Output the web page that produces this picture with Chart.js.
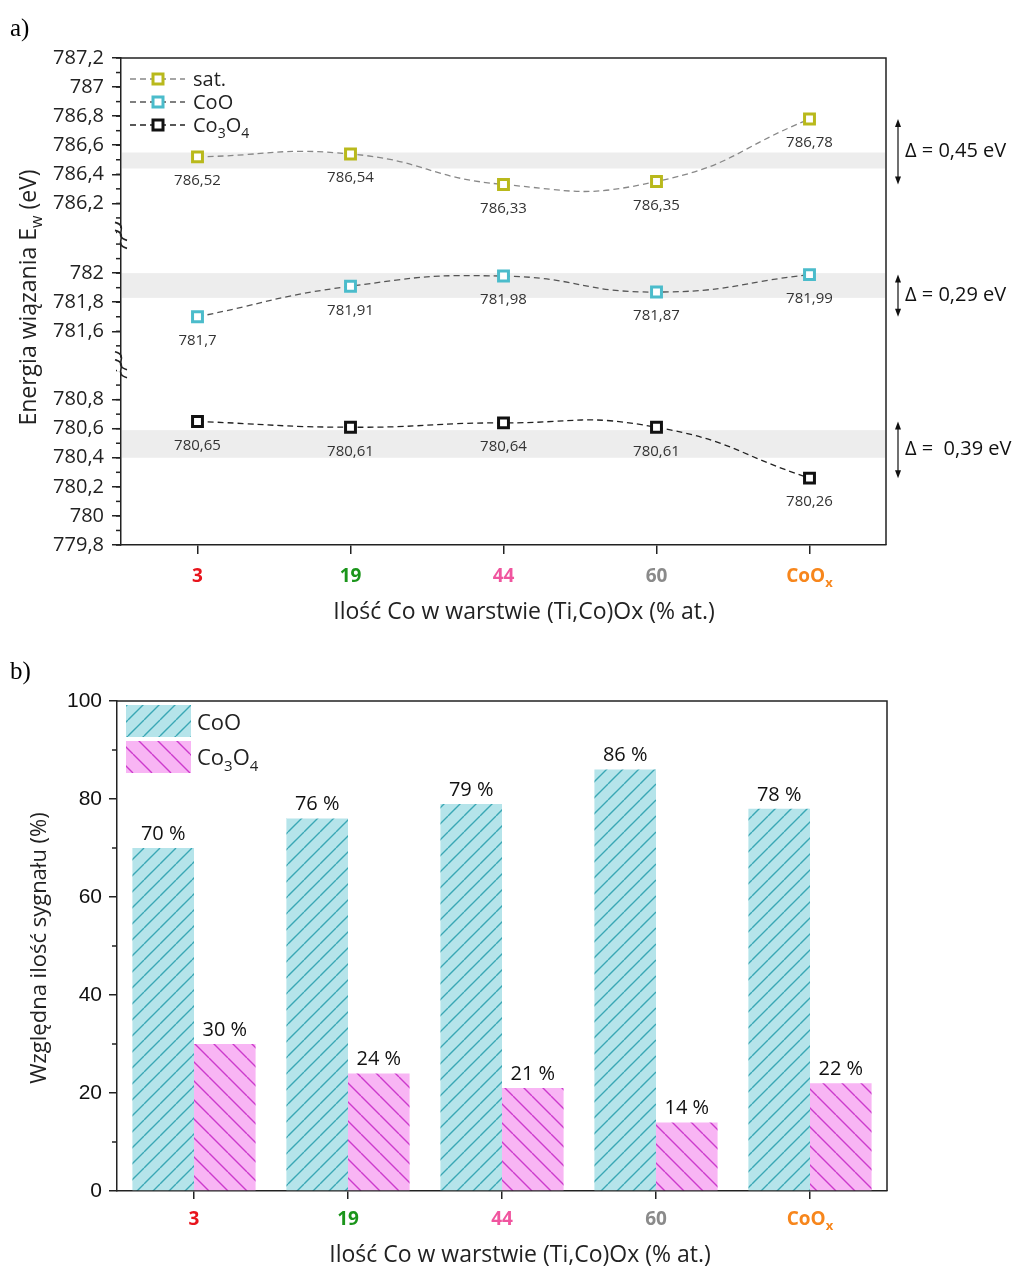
<!DOCTYPE html>
<html><head><meta charset="utf-8">
<script src="https://cdn.jsdelivr.net/npm/chart.js@4.4.1/dist/chart.umd.min.js"></script>
<style>
html,body{margin:0;padding:0;background:#fff;}
#wa{position:absolute;left:0;top:0;width:1016px;height:640px;}
#wb{position:absolute;left:0;top:640px;width:1016px;height:630px;}
</style></head><body>
<div id="wa"><canvas id="ca"></canvas></div>
<div id="wb"><canvas id="cb"></canvas></div>
<script>
// ---------- data ----------
const categories = ['3', '19', '44', '60', 'CoOx'];
const categoryColors = ['#e8141c', '#1b951b', '#f0559f', '#8a8a8a', '#f7861c'];
const satValues = [786.52, 786.54, 786.33, 786.35, 786.78];
const cooValues = [781.70, 781.91, 781.98, 781.87, 781.99];
const co3o4Values = [780.65, 780.61, 780.64, 780.61, 780.26];
const topTicks = [786.2, 786.4, 786.6, 786.8, 787, 787.2];
const midTicks = [781.6, 781.8, 782];
const botTicks = [779.8, 780, 780.2, 780.4, 780.6, 780.8];
const topRange = [785.98, 787.2];
const midRange = [781.37, 782.26];
const botRange = [779.8, 781.04];
const satBand = [786.44, 786.55];
const cooBand = [781.83, 782.0];
const co3o4Band = [780.40, 780.59];
const deltaLabels = ['Δ = 0,45 eV', 'Δ = 0,29 eV', 'Δ =  0,39 eV'];
const cooShares = [70, 76, 79, 86, 78];
const co3o4Shares = [30, 24, 21, 14, 22];
const shareTicks = [0, 20, 40, 60, 80, 100];

const FONT = "'Open Sans', 'DejaVu Sans', sans-serif";
const SAT_C = '#b9b91c', COO_C = '#4bbccb', CO3_C = '#111111';
const fmt = v => String(+v.toFixed(2)).replace('.', ',');

function richText(ctx, parts, x, y, size, weight, color, align) {
  const sub = Math.round(size * 0.68);
  let w = 0;
  const ws = parts.map(([t, s]) => { ctx.font = `${weight} ${s ? sub : size}px ${FONT}`; const m = ctx.measureText(t).width; w += m; return m; });
  let cx = align === 'center' ? x - w / 2 : align === 'right' ? x - w : x;
  ctx.fillStyle = color; ctx.textAlign = 'left'; ctx.textBaseline = 'alphabetic';
  parts.forEach(([t, s], i) => { ctx.font = `${weight} ${s ? sub : size}px ${FONT}`; ctx.fillText(t, cx, s ? y + size * 0.28 : y); cx += ws[i]; });
}
const catParts = c => c === 'CoOx' ? [['CoO', 0], ['x', 1]] : [[c, 0]];

function drawFrame(ctx, a) {
  ctx.save(); ctx.strokeStyle = '#222'; ctx.lineWidth = 1.5;
  ctx.beginPath(); ctx.moveTo(a.left, a.top); ctx.lineTo(a.right, a.top); ctx.lineTo(a.right, a.bottom); ctx.stroke();
  ctx.restore();
}

// ---------- chart a ----------
const decorA = {
  id: 'decorA',
  beforeDatasetsDraw(chart) {
    const ctx = chart.ctx, a = chart.chartArea;
    ctx.save(); ctx.fillStyle = '#ededed';
    [[satBand, 'yTop'], [cooBand, 'yMid'], [co3o4Band, 'yBot']].forEach(([b, id]) => {
      const s = chart.scales[id];
      const y1 = s.getPixelForValue(b[1]), y0 = s.getPixelForValue(b[0]);
      ctx.fillRect(a.left + 1, y1, a.right - a.left - 2, y0 - y1);
    });
    ctx.restore();
  },
  afterDraw(chart) {
    const ctx = chart.ctx, a = chart.chartArea;
    drawFrame(ctx, a);
    ctx.save();
    // minor ticks
    ctx.strokeStyle = '#222'; ctx.lineWidth = 1.5;
    ['yTop', 'yMid', 'yBot'].forEach(id => {
      const s = chart.scales[id];
      for (let k = Math.ceil(s.min * 10 - 1e-6); k <= Math.floor(s.max * 10 + 1e-6); k++) {
        const y = s.getPixelForValue(k / 10);
        ctx.beginPath(); ctx.moveTo(a.left - 5, y); ctx.lineTo(a.left, y); ctx.stroke();
      }
    });
    // axis breaks
    [chart.scales.yTop.bottom, chart.scales.yMid.bottom].forEach(yb => {
      ctx.fillStyle = '#fff'; ctx.fillRect(a.left - 4, yb - 7, 8, 14);
      ctx.strokeStyle = '#222'; ctx.lineWidth = 1.6;
      [-4, 4].forEach(off => {
        ctx.beginPath();
        ctx.moveTo(a.left - 6, yb + off - 9);
        ctx.bezierCurveTo(a.left + 9, yb + off - 5, a.left - 9, yb + off + 5, a.left + 6, yb + off + 9);
        ctx.stroke();
      });
    });
    // data labels
    ctx.font = `15px ${FONT}`; ctx.fillStyle = '#333'; ctx.textAlign = 'center'; ctx.textBaseline = 'middle';
    chart.data.datasets.forEach((ds, di) => {
      chart.getDatasetMeta(di).data.forEach((pt, i) => ctx.fillText(fmt(ds.data[i]), pt.x, pt.y + 24));
    });
    // legend
    const leg = [[[['sat.', 0]], SAT_C, '#888'], [[['CoO', 0]], COO_C, '#555'], [[['Co', 0], ['3', 1], ['O', 0], ['4', 1]], CO3_C, '#222']];
    leg.forEach(([parts, mc, lc], i) => {
      const y = 79 + i * 23;
      ctx.strokeStyle = lc; ctx.lineWidth = 1.3; ctx.setLineDash([6, 4]);
      ctx.beginPath(); ctx.moveTo(130, y); ctx.lineTo(185, y); ctx.stroke(); ctx.setLineDash([]);
      ctx.fillStyle = '#fff'; ctx.fillRect(153, y - 5, 10, 10);
      ctx.strokeStyle = mc; ctx.lineWidth = 3; ctx.strokeRect(153, y - 5, 10, 10);
      richText(ctx, parts, 193, y + 7, 20, 'normal', '#222', 'left');
    });
    // x category labels
    const xs = chart.scales.x;
    categories.forEach((c, i) => richText(ctx, catParts(c), xs.getPixelForValue(i), 582, 19, 'bold', categoryColors[i], 'center'));
    // x title
    ctx.font = `23px ${FONT}`; ctx.fillStyle = '#222'; ctx.textAlign = 'center'; ctx.textBaseline = 'middle';
    ctx.fillText('Ilość Co w warstwie (Ti,Co)Ox (% at.)', 524, 612);
    // y title
    ctx.save(); ctx.translate(28, (a.top + a.bottom) / 2 - 4); ctx.rotate(-Math.PI / 2);
    richText(ctx, [['Energia wiązania E', 0], ['w', 1], [' (eV)', 0]], 0, 8, 23, 'normal', '#222', 'center');
    ctx.restore();
    // delta arrows
    [[satValues, 'yTop'], [cooValues, 'yMid'], [co3o4Values, 'yBot']].forEach(([vals, id], i) => {
      const s = chart.scales[id];
      const y1 = s.getPixelForValue(Math.max(...vals)), y2 = s.getPixelForValue(Math.min(...vals));
      const x = 898;
      ctx.strokeStyle = '#111'; ctx.fillStyle = '#111'; ctx.lineWidth = 1.2;
      ctx.beginPath(); ctx.moveTo(x, y1 + 4); ctx.lineTo(x, y2 - 4); ctx.stroke();
      ctx.beginPath(); ctx.moveTo(x, y1); ctx.lineTo(x - 3, y1 + 8); ctx.lineTo(x + 3, y1 + 8); ctx.closePath(); ctx.fill();
      ctx.beginPath(); ctx.moveTo(x, y2); ctx.lineTo(x - 3, y2 - 8); ctx.lineTo(x + 3, y2 - 8); ctx.closePath(); ctx.fill();
      ctx.font = `20px ${FONT}`; ctx.textAlign = 'left'; ctx.textBaseline = 'middle'; ctx.fillStyle = '#111';
      ctx.fillText(deltaLabels[i], 905, (y1 + y2) / 2);
    });
    // panel letter
    ctx.font = "25px 'Liberation Serif', serif"; ctx.fillStyle = '#000'; ctx.textAlign = 'left'; ctx.textBaseline = 'middle';
    ctx.fillText('a)', 10, 29);
    ctx.restore();
  }
};

function yAxis(range, ticks, weight) {
  return {
    type: 'linear', position: 'left', stack: 'ew', stackWeight: range[1] - range[0], weight: weight,
    min: range[0], max: range[1], offset: false,
    afterBuildTicks: s => { s.ticks = ticks.map(v => ({ value: v })); },
    afterFit: s => { s.width = 121; },
    ticks: { autoSkip: false, padding: 8, color: '#222', font: { family: FONT, size: 20 }, callback: v => fmt(v) },
    grid: { drawOnChartArea: false, drawTicks: true, tickLength: 9, color: '#222', lineWidth: 1.5 },
    border: { display: true, color: '#222', width: 1.5 }
  };
}
function lineDs(label, data, axis, lineC, markC) {
  return { label, data, yAxisID: axis, borderColor: lineC, borderWidth: 1.3, borderDash: [6, 4], tension: 0.5,
    pointStyle: 'rect', pointRadius: 7, pointBorderWidth: 3, pointBorderColor: markC, pointBackgroundColor: '#fff', fill: false };
}

new Chart(document.getElementById('ca'), {
  type: 'line',
  data: { labels: categories, datasets: [
    lineDs('sat.', satValues, 'yTop', '#888', SAT_C),
    lineDs('CoO', cooValues, 'yMid', '#555', COO_C),
    lineDs('Co3O4', co3o4Values, 'yBot', '#222', CO3_C)
  ] },
  options: {
    responsive: true, maintainAspectRatio: false, animation: false, devicePixelRatio: 1,
    layout: { padding: { top: 58, right: 130, left: 0, bottom: 0 } },
    plugins: { legend: { display: false }, tooltip: { enabled: false } },
    scales: {
      x: { type: 'category', offset: true, ticks: { display: false },
        grid: { offset: false, drawOnChartArea: false, drawTicks: true, tickLength: 9, color: '#222', lineWidth: 1.5 },
        border: { color: '#222', width: 1.5 }, afterFit: s => { s.height = 95; } },
      yTop: yAxis(topRange, topTicks, 3),
      yMid: yAxis(midRange, midTicks, 2),
      yBot: yAxis(botRange, botTicks, 1)
    }
  },
  plugins: [decorA]
});

// ---------- chart b ----------
function hatch(bg, fg, p, dir, lw) {
  const c = document.createElement('canvas'); c.width = p; c.height = p;
  const x = c.getContext('2d');
  x.fillStyle = bg; x.fillRect(0, 0, p, p);
  x.strokeStyle = fg; x.lineWidth = lw; x.beginPath();
  for (const k of [-1, 0, 1]) {
    if (dir === '/') { x.moveTo(k * p, p); x.lineTo(k * p + p, 0); }
    else { x.moveTo(k * p, 0); x.lineTo(k * p + p, p); }
  }
  x.stroke();
  return x.createPattern(c, 'repeat');
}
const ctxB = document.getElementById('cb').getContext('2d');
const patCoO = hatch('#b5e4ea', '#3aa7b5', 16, '/', 1.4);
const patCo3 = hatch('#f8b5f4', '#cc3acc', 19, '\\', 1.4);

const decorB = {
  id: 'decorB',
  afterDraw(chart) {
    const ctx = chart.ctx, a = chart.chartArea;
    drawFrame(ctx, a);
    ctx.save();
    const ys = chart.scales.y;
    ctx.strokeStyle = '#222'; ctx.lineWidth = 1.5;
    for (let v = 10; v < 100; v += 20) {
      const y = ys.getPixelForValue(v);
      ctx.beginPath(); ctx.moveTo(a.left - 5, y); ctx.lineTo(a.left, y); ctx.stroke();
    }
    // value labels
    ctx.font = `20px ${FONT}`; ctx.fillStyle = '#111'; ctx.textAlign = 'center'; ctx.textBaseline = 'middle';
    chart.data.datasets.forEach((ds, di) => {
      chart.getDatasetMeta(di).data.forEach((bar, i) => ctx.fillText(ds.data[i] + ' %', bar.x, bar.y - 14));
    });
    // legend
    ctx.fillStyle = patCoO; ctx.fillRect(126, 705 - 640, 65, 32);
    ctx.fillStyle = patCo3; ctx.fillRect(126, 741 - 640, 65, 32);
    richText(ctx, [['CoO', 0]], 197, 722 - 640 + 8, 22, 'normal', '#222', 'left');
    richText(ctx, [['Co', 0], ['3', 1], ['O', 0], ['4', 1]], 197, 757 - 640 + 8, 22, 'normal', '#222', 'left');
    // categories
    const xs = chart.scales.x;
    categories.forEach((c, i) => richText(ctx, catParts(c), xs.getPixelForValue(i), 1225 - 640, 19, 'bold', categoryColors[i], 'center'));
    ctx.font = `23px ${FONT}`; ctx.fillStyle = '#222'; ctx.textAlign = 'center'; ctx.textBaseline = 'middle';
    ctx.fillText('Ilość Co w warstwie (Ti,Co)Ox (% at.)', 520, 1255 - 640);
    ctx.save(); ctx.translate(40, (a.top + a.bottom) / 2 + 2); ctx.rotate(-Math.PI / 2);
    ctx.font = `22px ${FONT}`;
    ctx.fillText('Względna ilość sygnału (%)', 0, 0);
    ctx.restore();
    ctx.font = "25px 'Liberation Serif', serif"; ctx.fillStyle = '#000'; ctx.textAlign = 'left'; ctx.textBaseline = 'middle';
    ctx.fillText('b)', 10, 672 - 640);
    ctx.restore();
  }
};

new Chart(ctxB, {
  type: 'bar',
  data: { labels: categories, datasets: [
    { label: 'CoO', data: cooShares, backgroundColor: patCoO, borderWidth: 0 },
    { label: 'Co3O4', data: co3o4Shares, backgroundColor: patCo3, borderWidth: 0 }
  ] },
  options: {
    responsive: true, maintainAspectRatio: false, animation: false, devicePixelRatio: 1,
    layout: { padding: { top: 61, right: 129, left: 0, bottom: 0 } },
    datasets: { bar: { categoryPercentage: 0.8, barPercentage: 1.0 } },
    plugins: { legend: { display: false }, tooltip: { enabled: false } },
    scales: {
      x: { offset: true, ticks: { display: false },
        grid: { offset: false, drawOnChartArea: false, drawTicks: true, tickLength: 8, color: '#222', lineWidth: 1.5 },
        border: { color: '#222', width: 1.5 }, afterFit: s => { s.height = 79; } },
      y: { min: 0, max: 100,
        afterBuildTicks: s => { s.ticks = shareTicks.map(v => ({ value: v })); },
        afterFit: s => { s.width = 117; },
        ticks: { autoSkip: false, padding: 7, color: '#111', font: { family: "'Liberation Sans', Arial, sans-serif", size: 21 } },
        grid: { drawOnChartArea: false, drawTicks: true, tickLength: 8, color: '#222', lineWidth: 1.5 },
        border: { color: '#222', width: 1.5 } }
    }
  },
  plugins: [decorB]
});
</script>
</body></html>
